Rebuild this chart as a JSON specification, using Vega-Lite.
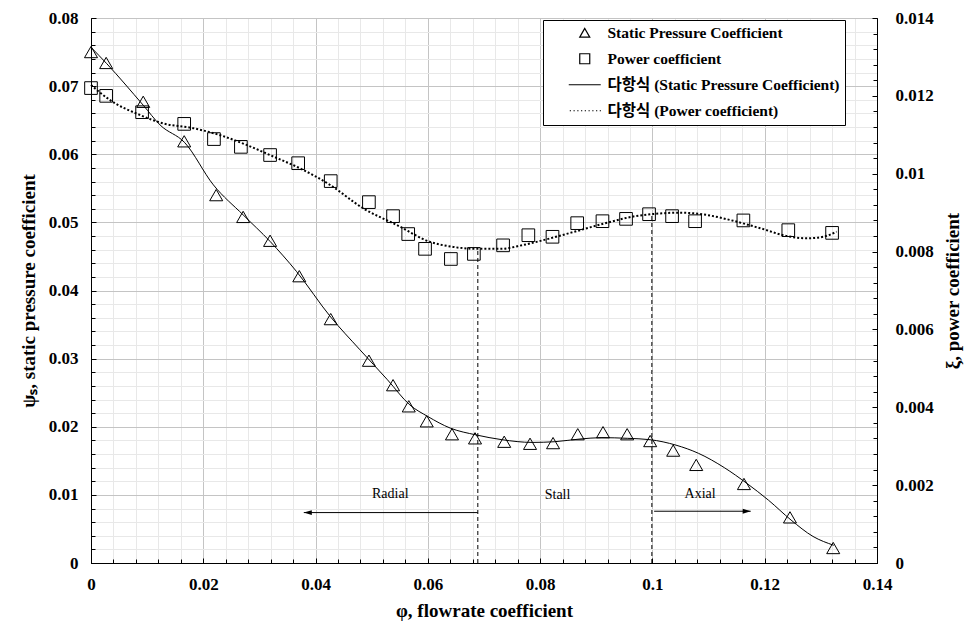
{
  "$schema": "https://vega.github.io/schema/vega-lite/v6.json",
  "width": 786,
  "height": 545,
  "autosize": "none",
  "padding": {"left": 91, "top": 18, "right": 100, "bottom": 75},
  "background": "white",
  "config": {
    "view": {"stroke": "black", "strokeWidth": 1},
    "axis": {
      "labelFont": "Liberation Serif", "labelFontWeight": "bold", "labelFontSize": 17, "labelColor": "black",
      "titleFont": "Liberation Serif", "titleFontWeight": "bold", "titleFontSize": 19, "titleColor": "black",
      "tickColor": "black", "domainColor": "black", "labelFlush": false, "labelOverlap": false
    }
  },
  "datasets": {
    "pressure": [
      {"phi": 0, "psi": 0.0750}, {"phi": 0.0027, "psi": 0.0734}, {"phi": 0.0093, "psi": 0.0677},
      {"phi": 0.0166, "psi": 0.0619}, {"phi": 0.0223, "psi": 0.0540}, {"phi": 0.0271, "psi": 0.0508},
      {"phi": 0.0319, "psi": 0.0473}, {"phi": 0.0371, "psi": 0.0421}, {"phi": 0.0427, "psi": 0.0358},
      {"phi": 0.0495, "psi": 0.0297}, {"phi": 0.0538, "psi": 0.0261}, {"phi": 0.0566, "psi": 0.0230},
      {"phi": 0.0598, "psi": 0.0208}, {"phi": 0.0643, "psi": 0.0189}, {"phi": 0.0684, "psi": 0.0183},
      {"phi": 0.0736, "psi": 0.0178}, {"phi": 0.0782, "psi": 0.0175}, {"phi": 0.0823, "psi": 0.0176},
      {"phi": 0.0867, "psi": 0.0189}, {"phi": 0.0912, "psi": 0.0192}, {"phi": 0.0955, "psi": 0.0189},
      {"phi": 0.0996, "psi": 0.0179}, {"phi": 0.1037, "psi": 0.0165}, {"phi": 0.1078, "psi": 0.0144},
      {"phi": 0.1163, "psi": 0.0116}, {"phi": 0.1245, "psi": 0.0067}, {"phi": 0.1322, "psi": 0.0022}
    ],
    "power": [
      {"phi": 0, "xi": 0.01220}, {"phi": 0.0027, "xi": 0.01200}, {"phi": 0.0091, "xi": 0.01158},
      {"phi": 0.0166, "xi": 0.01128}, {"phi": 0.0219, "xi": 0.01089}, {"phi": 0.0267, "xi": 0.01069},
      {"phi": 0.0319, "xi": 0.01048}, {"phi": 0.0369, "xi": 0.01027}, {"phi": 0.0427, "xi": 0.00981},
      {"phi": 0.0495, "xi": 0.00927}, {"phi": 0.0538, "xi": 0.00891}, {"phi": 0.0565, "xi": 0.00845},
      {"phi": 0.0595, "xi": 0.00807}, {"phi": 0.0641, "xi": 0.00781}, {"phi": 0.0682, "xi": 0.00794},
      {"phi": 0.0734, "xi": 0.00816}, {"phi": 0.0779, "xi": 0.00842}, {"phi": 0.0822, "xi": 0.00838},
      {"phi": 0.0866, "xi": 0.00873}, {"phi": 0.0911, "xi": 0.00878}, {"phi": 0.0953, "xi": 0.00884},
      {"phi": 0.0994, "xi": 0.00896}, {"phi": 0.1035, "xi": 0.00891}, {"phi": 0.1076, "xi": 0.00878},
      {"phi": 0.1162, "xi": 0.00880}, {"phi": 0.1242, "xi": 0.00855}, {"phi": 0.1320, "xi": 0.00848}
    ],
    "fitPressure": [
      {"phi": 0, "psi": 0.0757}, {"phi": 0.0028, "psi": 0.0733}, {"phi": 0.0093, "psi": 0.0672},
      {"phi": 0.0123, "psi": 0.0643}, {"phi": 0.0167, "psi": 0.0617}, {"phi": 0.0218, "psi": 0.0555},
      {"phi": 0.0271, "psi": 0.0511}, {"phi": 0.0319, "psi": 0.0472}, {"phi": 0.0366, "psi": 0.0428},
      {"phi": 0.0427, "psi": 0.0361}, {"phi": 0.0479, "psi": 0.0313}, {"phi": 0.0528, "psi": 0.0269},
      {"phi": 0.0568, "psi": 0.0232}, {"phi": 0.0600, "psi": 0.0215}, {"phi": 0.0640, "psi": 0.0198},
      {"phi": 0.0686, "psi": 0.0188}, {"phi": 0.0732, "psi": 0.0181}, {"phi": 0.0786, "psi": 0.0177},
      {"phi": 0.0825, "psi": 0.0178}, {"phi": 0.0871, "psi": 0.0182}, {"phi": 0.0910, "psi": 0.0184},
      {"phi": 0.0956, "psi": 0.0183}, {"phi": 0.0996, "psi": 0.0181}, {"phi": 0.1042, "psi": 0.0173},
      {"phi": 0.1082, "psi": 0.0161}, {"phi": 0.1128, "psi": 0.0140}, {"phi": 0.1168, "psi": 0.0117},
      {"phi": 0.1207, "psi": 0.0092}, {"phi": 0.1247, "psi": 0.0063}, {"phi": 0.1286, "psi": 0.0039},
      {"phi": 0.1323, "psi": 0.0026}
    ],
    "fitPower": [
      {"phi": 0, "xi": 0.01228}, {"phi": 0.0034, "xi": 0.01189}, {"phi": 0.0087, "xi": 0.01151},
      {"phi": 0.0129, "xi": 0.01129}, {"phi": 0.0182, "xi": 0.01117}, {"phi": 0.0230, "xi": 0.01099},
      {"phi": 0.0277, "xi": 0.01074}, {"phi": 0.0325, "xi": 0.01044}, {"phi": 0.0372, "xi": 0.01014},
      {"phi": 0.0426, "xi": 0.00971}, {"phi": 0.0485, "xi": 0.00911}, {"phi": 0.0545, "xi": 0.00868},
      {"phi": 0.0604, "xi": 0.00825}, {"phi": 0.0645, "xi": 0.00812}, {"phi": 0.0687, "xi": 0.00807},
      {"phi": 0.0729, "xi": 0.00807}, {"phi": 0.0770, "xi": 0.00817}, {"phi": 0.0818, "xi": 0.00834},
      {"phi": 0.0871, "xi": 0.00855}, {"phi": 0.0919, "xi": 0.00874}, {"phi": 0.0966, "xi": 0.00890},
      {"phi": 0.1014, "xi": 0.00898}, {"phi": 0.1049, "xi": 0.00900}, {"phi": 0.1097, "xi": 0.00894},
      {"phi": 0.1144, "xi": 0.00879}, {"phi": 0.1192, "xi": 0.00860}, {"phi": 0.1239, "xi": 0.00840},
      {"phi": 0.1275, "xi": 0.00834}, {"phi": 0.1304, "xi": 0.00838}, {"phi": 0.1328, "xi": 0.00851}
    ],
    "dividers": [
      {"phi": 0.0689, "low": 0, "high": 0.0459},
      {"phi": 0.0999, "low": 0, "high": 0.0513}
    ],
    "arrows": [
      {"region": "Radial", "from": 0.0689, "to": 0.0379, "level": 0.0074},
      {"region": "Axial", "from": 0.1003, "to": 0.1175, "level": 0.0076}
    ],
    "labels": [
      {"phi": 0.0533, "psi": 0.0102, "text": "Radial"},
      {"phi": 0.0831, "psi": 0.0100, "text": "Stall"},
      {"phi": 0.1085, "psi": 0.0101, "text": "Axial"}
    ]
  },
  "resolve": {"scale": {"y": "independent"}, "axis": {"x": "independent", "y": "independent"}},
  "layer": [
    {
      "resolve": {"axis": {"x": "independent", "y": "independent"}},
      "layer": [
        {
          "data": {"name": "dividers"},
          "mark": {"type": "rule", "color": "black", "strokeWidth": 1, "strokeDash": [4, 3]},
          "encoding": {
            "x": {"field": "phi", "type": "quantitative", "scale": {"domain": [0, 0.14], "nice": false},
              "axis": {"orient": "bottom", "values": [0,0.004,0.008,0.012,0.016,0.02,0.024,0.028,0.032,0.036,0.04,0.044,0.048,0.052,0.056,0.06,0.064,0.068,0.072,0.076,0.08,0.084,0.088,0.092,0.096,0.1,0.104,0.108,0.112,0.116,0.12,0.124,0.128,0.132,0.136,0.14],
                "labels": false, "title": null, "domain": false, "tickSize": -4, "grid": true, "gridColor": "#e8e8e8", "gridWidth": 1}},
            "y": {"field": "low", "type": "quantitative", "scale": {"domain": [0, 0.08], "nice": false},
              "axis": {"orient": "left", "values": [0,0.002,0.004,0.006,0.008,0.01,0.012,0.014,0.016,0.018,0.02,0.022,0.024,0.026,0.028,0.03,0.032,0.034,0.036,0.038,0.04,0.042,0.044,0.046,0.048,0.05,0.052,0.054,0.056,0.058,0.06,0.062,0.064,0.066,0.068,0.07,0.072,0.074,0.076,0.078,0.08],
                "labels": false, "title": null, "domain": false, "tickSize": -4, "grid": true, "gridColor": "#e8e8e8", "gridWidth": 1}},
            "y2": {"field": "high"}
          }
        },
        {
          "data": {"name": "pressure"},
          "mark": {"type": "point", "filled": false, "stroke": "black", "strokeWidth": 1, "size": 170, "opacity": 1},
          "encoding": {
            "x": {"field": "phi", "type": "quantitative",
              "axis": {"orient": "bottom", "values": [0,0.02,0.04,0.06,0.08,0.1,0.12,0.14], "format": "~g",
                "labelPadding": 18, "tickSize": -5, "grid": true, "gridColor": "#c4c4c4", "gridWidth": 1,
                "title": "φ, flowrate coefficient", "titlePadding": 9}},
            "y": {"field": "psi", "type": "quantitative",
              "axis": {"orient": "left", "values": [0,0.01,0.02,0.03,0.04,0.05,0.06,0.07,0.08], "format": "~g",
                "labelPadding": 18, "tickSize": -5, "grid": true, "gridColor": "#c4c4c4", "gridWidth": 1,
                "title": "ψₛ, static pressure coefficient", "titlePadding": 10}},
            "shape": {"datum": "Static Pressure Coefficient", "type": "nominal",
              "scale": {"domain": ["Static Pressure Coefficient", "Power coefficient", "다항식 (Static Pressure Coefficient)", "다항식 (Power coefficient)"],
                "range": ["triangle-up", "square", "M-3.2,0L3.2,0", "M-3,0L-2.75,0M-2.25,0L-2,0M-1.5,0L-1.25,0M-0.75,0L-0.5,0M0,0L0.25,0M0.75,0L1,0M1.5,0L1.75,0M2.25,0L2.5,0M3,0L3.25,0"]},
              "legend": {"title": null, "orient": "none", "legendX": 452, "legendY": 2, "padding": 5,
                "strokeColor": "black", "fillColor": "white", "symbolOffset": 29, "labelOffset": 15,
                "rowPadding": 9, "symbolSize": 100, "symbolStrokeWidth": 1.2, "labelFont": "Liberation Serif, Noto Sans CJK KR",
                "labelFontSize": 15.5, "labelFontWeight": "bold", "labelColor": "black", "labelLimit": 400,
                "encode": {"symbols": {"update": {
                  "fill": {"value": "transparent"},
                  "stroke": {"value": "black"}
                }}}}
            }
          }
        },
        {
          "data": {"name": "fitPressure"},
          "mark": {"type": "line", "color": "black", "strokeWidth": 1, "interpolate": "monotone"},
          "encoding": {
            "x": {"field": "phi", "type": "quantitative", "axis": null},
            "y": {"field": "psi", "type": "quantitative", "axis": null}
          }
        },
        {
          "data": {"name": "arrows"},
          "mark": {"type": "rule", "color": "black", "strokeWidth": 1},
          "encoding": {
            "x": {"field": "from", "type": "quantitative", "axis": null},
            "x2": {"field": "to"},
            "y": {"field": "level", "type": "quantitative", "axis": null}
          }
        },
        {
          "data": {"name": "arrows"},
          "transform": [{"filter": "datum.region === 'Radial'"}],
          "mark": {"type": "point", "filled": true, "color": "black", "opacity": 1, "strokeWidth": 0, "size": 64, "shape": "M0,0L2,-0.6L2,0.6Z"},
          "encoding": {
            "x": {"field": "to", "type": "quantitative", "axis": null},
            "y": {"field": "level", "type": "quantitative", "axis": null}
          }
        },
        {
          "data": {"name": "arrows"},
          "transform": [{"filter": "datum.region === 'Axial'"}],
          "mark": {"type": "point", "filled": true, "color": "black", "opacity": 1, "strokeWidth": 0, "size": 64, "shape": "M0,0L-2,-0.6L-2,0.6Z"},
          "encoding": {
            "x": {"field": "to", "type": "quantitative", "axis": null},
            "y": {"field": "level", "type": "quantitative", "axis": null}
          }
        },
        {
          "data": {"name": "labels"},
          "mark": {"type": "text", "font": "Liberation Serif", "fontSize": 14, "color": "black"},
          "encoding": {
            "x": {"field": "phi", "type": "quantitative", "axis": null},
            "y": {"field": "psi", "type": "quantitative", "axis": null},
            "text": {"field": "text"}
          }
        }
      ]
    },
    {
      "resolve": {"axis": {"y": "independent"}},
      "layer": [
        {
          "data": {"name": "power"},
          "mark": {"type": "point", "filled": false, "stroke": "black", "strokeWidth": 1, "size": 160, "opacity": 1},
          "encoding": {
            "x": {"field": "phi", "type": "quantitative", "axis": null},
            "y": {"field": "xi", "type": "quantitative", "scale": {"domain": [0, 0.014], "nice": false},
              "axis": {"orient": "right", "values": [0,0.002,0.004,0.006,0.008,0.01,0.012,0.014], "format": "~g",
                "labelPadding": 23, "tickSize": -5, "grid": false, "title": "ξ, power coefficient", "titleAngle": 270, "titleBaseline": "top", "titlePadding": 10}},
            "shape": {"datum": "Power coefficient", "type": "nominal"}
          }
        },
        {
          "data": {"name": "fitPower"},
          "mark": {"type": "line", "color": "black", "strokeWidth": 2, "strokeDash": [2, 2], "interpolate": "monotone"},
          "encoding": {
            "x": {"field": "phi", "type": "quantitative", "axis": null},
            "y": {"field": "xi", "type": "quantitative",
              "axis": {"orient": "right", "values": [0,0.0004,0.0008,0.0012,0.0016,0.002,0.0024,0.0028,0.0032,0.0036,0.004,0.0044,0.0048,0.0052,0.0056,0.006,0.0064,0.0068,0.0072,0.0076,0.008,0.0084,0.0088,0.0092,0.0096,0.01,0.0104,0.0108,0.0112,0.0116,0.012,0.0124,0.0128,0.0132,0.0136,0.014],
                "labels": false, "title": null, "domain": false, "tickSize": -4, "grid": false}}
          }
        }
      ]
    }
  ]
}
